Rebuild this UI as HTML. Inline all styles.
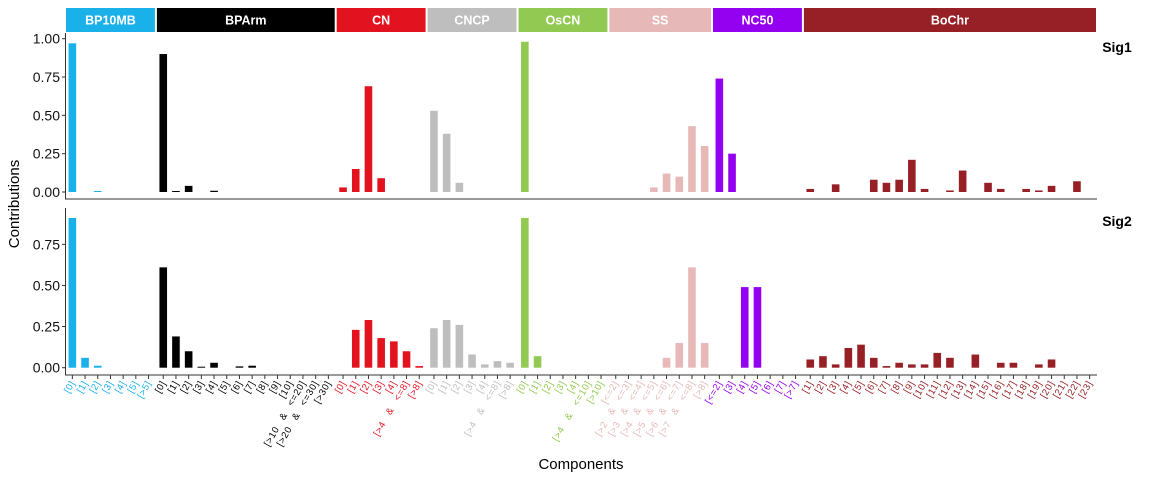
<!DOCTYPE html>
<html><head><meta charset="utf-8"><style>body{margin:0;background:#fff}svg{display:block}</style></head>
<body>
<svg id="s" width="1152" height="480" xmlns="http://www.w3.org/2000/svg" font-family="Liberation Sans, sans-serif"></svg>
<script>
const u=12.7;
const facets=[
 ["BP10MB","#1AB0EA",["[0]","[1]","[2]","[3]","[4]","[5]","[>5]"],
  [0.97,0,0.005,0,0,0,0],[0.91,0.06,0.012,0,0,0,0]],
 ["BPArm","#000000",["[0]","[1]","[2]","[3]","[4]","[5]","[6]","[7]","[8]","[9]","[10]","[>10 & <=20]","[>20 & <=30]","[>30]"],
  [0.90,0.005,0.04,0,0.008,0,0,0,0,0,0,0,0,0],[0.61,0.19,0.10,0.005,0.03,0,0.008,0.012,0,0,0,0,0,0]],
 ["CN","#E2131F",["[0]","[1]","[2]","[3]","[4]","[>4 & <=8]","[>8]"],
  [0.03,0.15,0.69,0.09,0,0,0],[0,0.23,0.29,0.18,0.16,0.10,0.01]],
 ["CNCP","#BEBEBE",["[0]","[1]","[2]","[3]","[4]","[>4 & <=8]","[>8]"],
  [0.53,0.38,0.06,0,0,0,0],[0.24,0.29,0.26,0.08,0.02,0.04,0.03]],
 ["OsCN","#92C952",["[0]","[1]","[2]","[3]","[4]","[>4 & <=10]","[>10]"],
  [0.98,0,0,0,0,0,0],[0.91,0.07,0,0,0,0,0]],
 ["SS","#E6B9B8",["[<=2]","[>2 & <=3]","[>3 & <=4]","[>4 & <=5]","[>5 & <=6]","[>6 & <=7]","[>7 & <=8]","[>8]"],
  [0,0,0,0.03,0.12,0.10,0.43,0.30],[0,0,0,0,0.06,0.15,0.61,0.15]],
 ["NC50","#9400F0",["[<=2]","[3]","[4]","[5]","[6]","[7]","[>7]"],
  [0.74,0.25,0,0,0,0,0],[0,0,0.49,0.49,0,0,0]],
 ["BoChr","#962025",Array.from({length:23},(_,i)=>"["+(i+1)+"]"),
  [0.02,0,0.05,0,0,0.08,0.06,0.08,0.21,0.02,0,0.01,0.14,0,0.06,0.02,0,0.02,0.01,0.04,0,0.07,0],
  [0.05,0.07,0.02,0.12,0.14,0.06,0.01,0.03,0.02,0.02,0.09,0.06,0,0.08,0,0.03,0.03,0,0.02,0.05,0,0,0]]
];
let h='';
let x0=66;
const P=[{top:33,bot:199,base:192,sc:153.3,ticks:[0,0.25,0.5,0.75,1]},{top:208,bot:375,base:367.7,sc:164.5,ticks:[0,0.25,0.5,0.75]}];
for(const f of facets){
 const n=f[2].length,w=n*u;
 h+=`<rect x="${x0}" y="8" width="${w}" height="24" fill="${f[1]}"/>`;
 h+=`<text x="${x0+w/2}" y="24.5" fill="#fff" font-size="12.5" font-weight="bold" text-anchor="middle">${f[0]}</text>`;
 for(let i=0;i<n;i++){
  const cx=x0+(i+0.5)*u;
  [f[3],f[4]].forEach((vals,p)=>{const v=vals[i];if(v>0){const hh=Math.max(v*P[p].sc,1);h+=`<rect x="${cx-3.8}" y="${P[p].base-hh}" width="7.6" height="${hh}" fill="${f[1]}"/>`;}});
  h+=`<line x1="${cx}" y1="375" x2="${cx}" y2="379" stroke="#333" stroke-width="1"/>`;
  const lab=f[2][i].replace(/&/g,'&amp;').replace(/</g,'&lt;').replace(/>/g,'&gt;');
  h+=`<text transform="translate(${cx+3},383) rotate(-60)" fill="${f[1]}" font-size="9.5" text-anchor="end" letter-spacing="0.6" word-spacing="6">${lab}</text>`;
 }
 x0+=w+2;
}
h+=`<line x1="65" y1="199" x2="1097" y2="199" stroke="#333"/>`;
h+=`<line x1="65" y1="375" x2="1097" y2="375" stroke="#333"/>`;
P.forEach(p=>{
 h+=`<line x1="65.5" y1="${p.top}" x2="65.5" y2="${p.bot}" stroke="#333"/>`;
 p.ticks.forEach(t=>{const y=p.base-t*p.sc;h+=`<line x1="62" y1="${y}" x2="65" y2="${y}" stroke="#333"/><text x="60" y="${y+5}" font-size="14" text-anchor="end" fill="#111">${t.toFixed(2)}</text>`;});
});
h+=`<text x="1117" y="52" font-size="14" font-weight="bold" text-anchor="middle">Sig1</text>`;
h+=`<text x="1117" y="226" font-size="14" font-weight="bold" text-anchor="middle">Sig2</text>`;
h+=`<text transform="translate(19,204) rotate(-90)" font-size="15" text-anchor="middle">Contributions</text>`;
h+=`<text x="581" y="469" font-size="15" text-anchor="middle">Components</text>`;
document.getElementById('s').innerHTML=h;
</script>
</body></html>
